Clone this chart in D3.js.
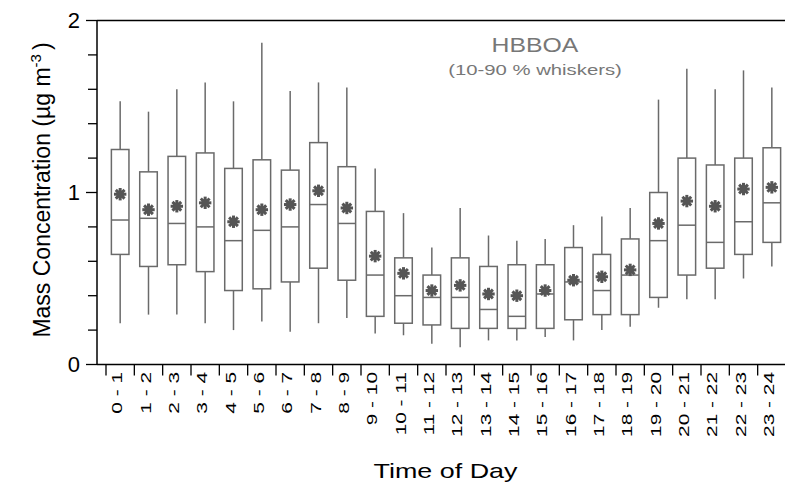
<!DOCTYPE html>
<html><head><meta charset="utf-8">
<script src="https://cdn.jsdelivr.net/npm/d3@7"></script>
<style>
body{margin:0;background:#fff;}
svg{display:block;font-family:Arial,"Liberation Sans",sans-serif;}
</style></head>
<body><svg id="c" width="785" height="487"></svg>
<script>
const categories = ["0 - 1","1 - 2","2 - 3","3 - 4","4 - 5","5 - 6","6 - 7","7 - 8","8 - 9","9 - 10","10 - 11","11 - 12","12 - 13","13 - 14","14 - 15","15 - 16","16 - 17","17 - 18","18 - 19","19 - 20","20 - 21","21 - 22","22 - 23","23 - 24"];
const p90    = [1.53,1.47,1.60,1.64,1.53,1.87,1.59,1.64,1.61,1.14,0.88,0.68,0.91,0.75,0.72,0.73,0.81,0.86,0.91,1.54,1.72,1.60,1.71,1.61];
const q75    = [1.25,1.12,1.21,1.23,1.14,1.19,1.13,1.29,1.15,0.89,0.62,0.52,0.62,0.57,0.58,0.58,0.68,0.64,0.73,1.00,1.20,1.16,1.20,1.26];
const median = [0.84,0.85,0.82,0.80,0.72,0.78,0.80,0.93,0.82,0.52,0.40,0.39,0.39,0.32,0.28,0.41,0.48,0.43,0.52,0.72,0.81,0.71,0.83,0.94];
const q25    = [0.64,0.57,0.58,0.54,0.43,0.44,0.48,0.56,0.49,0.28,0.24,0.23,0.21,0.21,0.21,0.21,0.26,0.29,0.29,0.39,0.52,0.56,0.64,0.71];
const p10    = [0.24,0.29,0.29,0.24,0.20,0.25,0.19,0.24,0.27,0.18,0.17,0.12,0.10,0.14,0.14,0.16,0.14,0.20,0.22,0.33,0.38,0.38,0.50,0.57];
const mean   = [0.99,0.90,0.92,0.94,0.83,0.90,0.93,1.01,0.91,0.63,0.53,0.43,0.46,0.41,0.40,0.43,0.49,0.51,0.55,0.82,0.95,0.92,1.02,1.03];
const yMajor = [0,1,2];
const yMinor = [0.2,0.4,0.6,0.8,1.2,1.4,1.6,1.8];

const svg = d3.select("#c");
const x = d3.scaleBand().domain(categories).range([106, 786]).padding(0);
const y = d3.scaleLinear().domain([0,2]).range([364.5, 20.5]);
const axisX0 = 97;
const gray = "#6a6a6a";

// frame: top line, left axis, bottom axis
svg.append("line").attr("x1",axisX0).attr("x2",785).attr("y1",y(2)).attr("y2",y(2)).attr("stroke","#000").attr("stroke-width",1.5);
svg.append("line").attr("x1",axisX0).attr("x2",axisX0).attr("y1",y(2)).attr("y2",y(0)).attr("stroke","#000").attr("stroke-width",1.5);
svg.append("line").attr("x1",axisX0).attr("x2",785).attr("y1",y(0)).attr("y2",y(0)).attr("stroke","#000").attr("stroke-width",1.5);

// y ticks
svg.selectAll(".ymaj").data(yMajor).join("line")
  .attr("x1",axisX0-11).attr("x2",axisX0).attr("y1",d=>y(d)).attr("y2",d=>y(d)).attr("stroke","#000").attr("stroke-width",1.3);
svg.selectAll(".ymin").data(yMinor).join("line")
  .attr("x1",axisX0-9).attr("x2",axisX0).attr("y1",d=>y(d)).attr("y2",d=>y(d)).attr("stroke","#000").attr("stroke-width",1.3);
svg.selectAll(".ylab").data(yMajor).join("text")
  .attr("x",80).attr("y",d=>y(d)).attr("dy","0.36em").attr("text-anchor","end")
  .attr("font-size",22).attr("fill","#000").text(d=>d);

// x ticks at band boundaries
const bounds = categories.map(c=>x(c)).concat([x(categories[categories.length-1])+x.bandwidth()]);
svg.selectAll(".xt").data(bounds).join("line")
  .attr("x1",d=>d).attr("x2",d=>d).attr("y1",y(0)).attr("y2",y(0)+11).attr("stroke","#000").attr("stroke-width",1.3);
svg.selectAll(".xl").data(categories).join("text")
  .attr("transform",d=>`translate(${x(d)+x.bandwidth()/2+2},372) rotate(-90) scale(1.39,1)`)
  .attr("text-anchor","end").attr("font-size",15).attr("fill","#000").text(d=>d);

// boxes
const bw = x.bandwidth()*0.62;
const g = svg.append("g");
categories.forEach((c,i)=>{
  const cx = x(c)+x.bandwidth()/2;
  g.append("line").attr("x1",cx).attr("x2",cx).attr("y1",y(p90[i])).attr("y2",y(q75[i])).attr("stroke",gray).attr("stroke-width",1.5);
  g.append("line").attr("x1",cx).attr("x2",cx).attr("y1",y(q25[i])).attr("y2",y(p10[i])).attr("stroke",gray).attr("stroke-width",1.5);
  g.append("rect").attr("x",cx-bw/2).attr("y",y(q75[i])).attr("width",bw).attr("height",y(q25[i])-y(q75[i]))
    .attr("fill","#fff").attr("stroke",gray).attr("stroke-width",1.5);
  g.append("line").attr("x1",cx-bw/2).attr("x2",cx+bw/2).attr("y1",y(median[i])).attr("y2",y(median[i])).attr("stroke",gray).attr("stroke-width",1.5);
  // mean asterisk
  const my = y(mean[i]);
  const s = g.append("g").attr("transform",`translate(${cx},${my})`);
  [0,45,90,135].forEach(a=>{
    const r = 6.2, rad = a*Math.PI/180;
    s.append("line").attr("x1",-r*Math.cos(rad)).attr("y1",-r*Math.sin(rad)).attr("x2",r*Math.cos(rad)).attr("y2",r*Math.sin(rad))
      .attr("stroke","#555").attr("stroke-width",3);
  });
  s.append("circle").attr("r",3.8).attr("fill","#555");
});

// title
svg.append("text").attr("transform","translate(535,52) scale(1.24,1)").attr("text-anchor","middle")
  .attr("font-size",20).attr("fill","#777").text("HBBOA");
svg.append("text").attr("transform","translate(535,75) scale(1.31,1)").attr("text-anchor","middle")
  .attr("font-size",15.5).attr("fill","#777").text("(10-90 % whiskers)");

// axis titles
svg.append("text").attr("transform","translate(445.5,478) scale(1.28,1)").attr("text-anchor","middle")
  .attr("font-size",21).attr("fill","#000").text("Time of Day");
const yl = svg.append("text").attr("transform","translate(50,190) rotate(-90)").attr("text-anchor","middle")
  .attr("font-size",23).attr("fill","#000");
yl.append("tspan").text("Mass Concentration (µg m");
yl.append("tspan").attr("dy",-9).attr("font-size",15).text("-3");
yl.append("tspan").attr("dy",9).attr("dx",4).text(")");
</script></body></html>
